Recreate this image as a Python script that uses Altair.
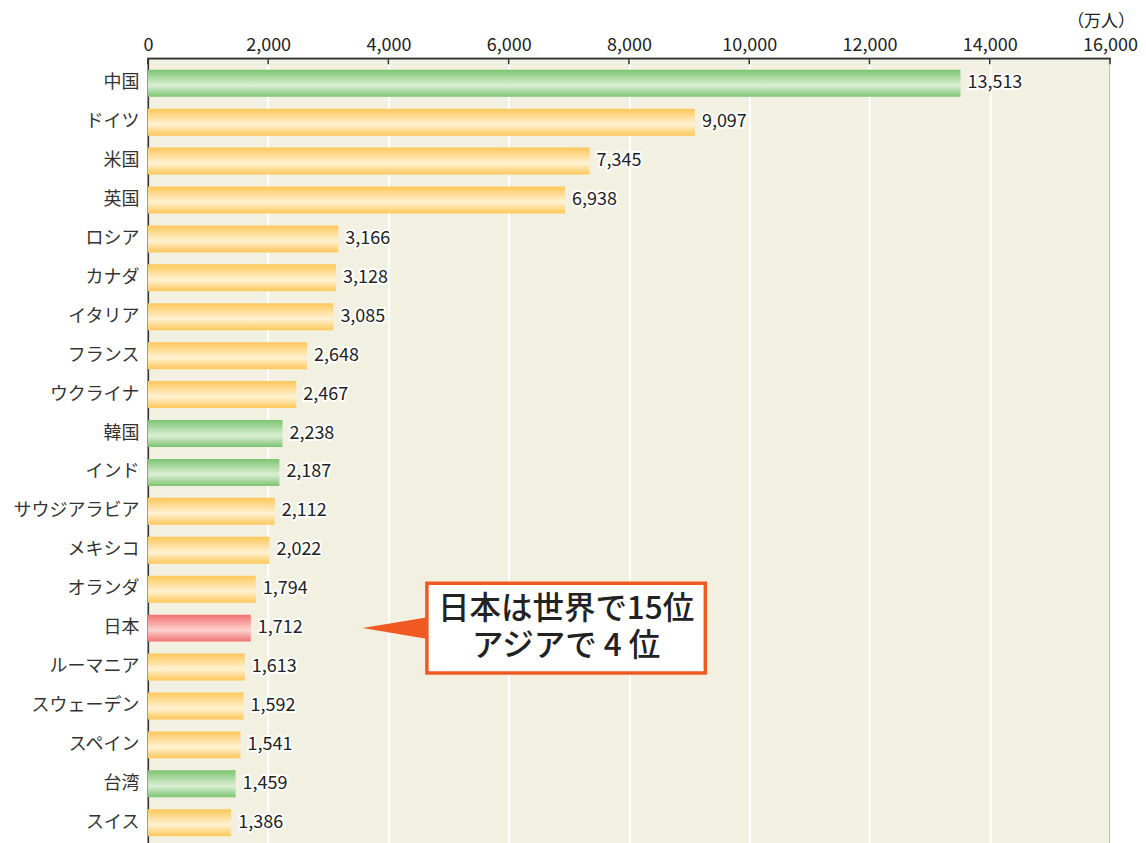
import altair as alt
import pandas as pd

countries = ["中国", "ドイツ", "米国", "英国", "ロシア", "カナダ", "イタリア", "フランス",
             "ウクライナ", "韓国", "インド", "サウジアラビア", "メキシコ", "オランダ", "日本",
             "ルーマニア", "スウェーデン", "スペイン", "台湾", "スイス"]
values = [13513, 9097, 7345, 6938, 3166, 3128, 3085, 2648, 2467, 2238, 2187, 2112,
          2022, 1794, 1712, 1613, 1592, 1541, 1459, 1386]
groups = ["asia", "other", "other", "other", "other", "other", "other", "other",
          "other", "asia", "asia", "other", "other", "other", "japan", "other",
          "other", "other", "asia", "other"]
tick_values = [0, 2000, 4000, 6000, 8000, 10000, 12000, 14000, 16000]
unit_label = "（万人）"
callout_lines = ["日本は世界で15位", "アジアで 4 位"]

FONT = "Noto Sans CJK JP"

df = pd.DataFrame({"country": countries, "value": values, "group": groups})
df["label"] = [f"{v:,}" for v in values]

xscale = alt.Scale(domain=[0, 16000], nice=False)
xenc = alt.X("value:Q", scale=xscale,
             axis=alt.Axis(orient="top", values=tick_values, format=",d",
                           grid=True, gridColor="white", gridWidth=2,
                           ticks=False, domainColor="#333333", domainWidth=1.5,
                           labelFont=FONT, labelFontSize=18, labelColor="#222222",
                           labelPadding=4, labelFlush=False, title=None))
ysort = countries
yscale = alt.Scale(paddingInner=0.3, paddingOuter=0.29)
yenc = alt.Y("country:N", sort=ysort, scale=yscale,
             axis=alt.Axis(ticks=False, domainColor="#333333", domainWidth=1.5,
                           labelFont=FONT, labelFontSize=18, labelColor="#333333",
                           labelPadding=9, title=None))

def grad(edge, center):
    return alt.Gradient(gradient="linear", x1=0, y1=0, x2=0, y2=1,
                        stops=[alt.GradientStop(offset=0, color=edge),
                               alt.GradientStop(offset=0.58, color=center),
                               alt.GradientStop(offset=1, color=edge)])

base = alt.Chart(df)

bars = []
for g, edge, center in [("asia", "#7cc471", "#dcefd5"),
                        ("other", "#fec75a", "#fff2d2"),
                        ("japan", "#f07070", "#fdd3cf")]:
    bars.append(base.transform_filter(alt.datum.group == g)
                .mark_bar(size=27, color=grad(edge, center))
                .encode(x=xenc, y=yenc))

yplain = alt.Y("country:N", sort=ysort, scale=yscale)
halo = base.mark_text(align="left", dx=7, font=FONT, fontSize=18, stroke="white",
                      strokeWidth=4, strokeJoin="round", color="white").encode(
    x=alt.X("value:Q", scale=xscale), y=yplain, text="label:N")
labels = base.mark_text(align="left", dx=7, font=FONT, fontSize=18, color="#222222").encode(
    x=alt.X("value:Q", scale=xscale), y=yplain, text="label:N")

ticks_df = pd.DataFrame({"t": tick_values})
tick_rules = alt.Chart(ticks_df).mark_rule(color="#333333", strokeWidth=1.5).encode(
    x=alt.X("t:Q", scale=xscale), y=alt.value(0), y2=alt.value(6))

unit = alt.Chart(pd.DataFrame({"t": [16000], "s": [unit_label]})).mark_text(
    font=FONT, fontSize=17, color="#222222", align="right", dx=25).encode(
    x=alt.X("t:Q", scale=xscale), y=alt.value(-36), text="s:N")

jp = pd.DataFrame({"country": ["日本"], "x0": [4150], "b0": [4640], "b1": [9270],
                   "cx": [6955], "l1": [callout_lines[0]], "l2": [callout_lines[1]]})
arrow = alt.Chart(jp).mark_point(
    shape="M -1 0 L 1 -0.33 L 1 0.33 Z", filled=True, color="#f05a22", opacity=1,
    size=4900).encode(
    x=alt.X("x0:Q", scale=xscale), y=yplain)
box = alt.Chart(jp).mark_bar(size=90, fill="white", stroke="#f05a22", strokeWidth=3.5).encode(
    x=alt.X("b0:Q", scale=xscale), x2="b1:Q", y=yplain)
t1 = alt.Chart(jp).mark_text(font=FONT, fontSize=31.5, fontWeight=500, color="#222222",
                             dy=-18).encode(
    x=alt.X("cx:Q", scale=xscale), y=yplain, text="l1:N")
t2 = alt.Chart(jp).mark_text(font=FONT, fontSize=31.5, fontWeight=500, color="#222222",
                             dy=19).encode(
    x=alt.X("cx:Q", scale=xscale), y=yplain, text="l2:N")

chart = alt.layer(*bars, halo, labels, tick_rules, unit, arrow, box, t1, t2).properties(
    width=963, height=790, background="white",
    padding={"left": 5, "top": 5, "right": 0, "bottom": 0}
).configure_view(fill="#f2f0e0", stroke="#666666", strokeWidth=1.5)

chart.save("out.html", embed_options={"renderer": "svg", "actions": False})
